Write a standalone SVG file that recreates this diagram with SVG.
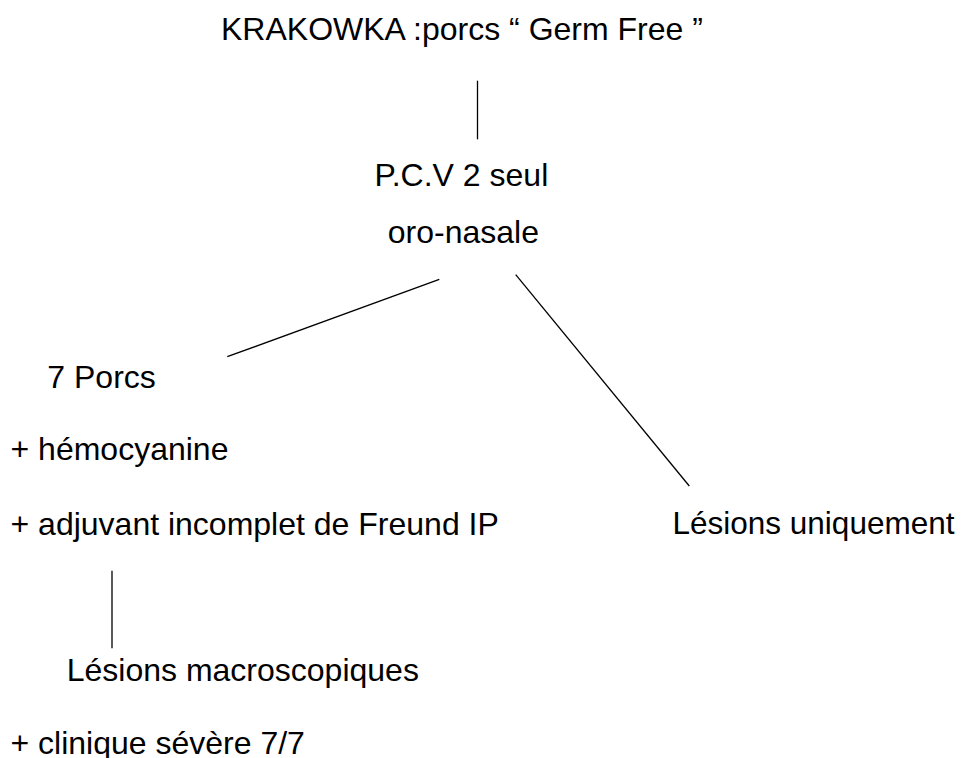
<svg xmlns="http://www.w3.org/2000/svg" width="963" height="758" viewBox="0 0 963 758">
<style>
text { font-family: "Liberation Sans", Arial, sans-serif; font-size: 32px; fill: #000; }
.c line { stroke: #000; stroke-width: 1.3; }
</style>
<rect width="963" height="758" fill="#fff"/>
<g id="n-krakowka"><text x="221" y="39.5">KRAKOWKA :porcs “ Germ Free ”</text></g>
<g id="n-pcv"><text x="374.5" y="186">P.C.V 2 seul</text><text x="387.8" y="242.5">oro-nasale</text></g>
<g id="n-porcs"><text x="47.3" y="388">7 Porcs</text><text x="10.5" y="460">+ hémocyanine</text><text x="10.5" y="535">+ adjuvant incomplet de Freund IP</text></g>
<g id="n-macro"><text x="66.7" y="681">Lésions macroscopiques</text><text x="10.5" y="754">+ clinique sévère 7/7</text></g>
<g id="n-uniq"><text x="672.5" y="534" style="font-size:31.5px">Lésions uniquement</text></g>
<g class="c" id="connectors">
<line x1="477.5" y1="80.7" x2="477.5" y2="139.3"/>
<line x1="439.3" y1="279.3" x2="227.3" y2="356.7"/>
<line x1="515.7" y1="274.7" x2="689.3" y2="486"/>
<line x1="112" y1="570.7" x2="112" y2="648.3"/>
</g>
</svg>
